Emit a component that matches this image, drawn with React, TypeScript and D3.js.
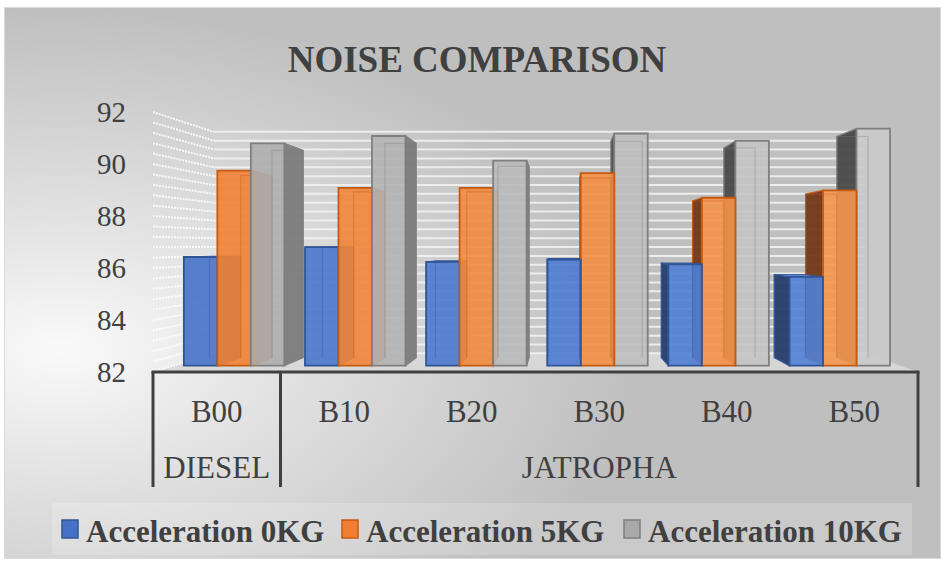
import React from 'react';
import * as d3 from 'd3';

const categories = ['B00', 'B10', 'B20', 'B30', 'B40', 'B50'];
const groupLabels = ['DIESEL', 'JATROPHA'];
const groupFirst = [0, 1];
const groupLast = [0, 5];
const seriesNames = ['Acceleration 0KG', 'Acceleration 5KG', 'Acceleration 10KG'];
const accel0kg = [86.4, 86.8, 86.2, 86.3, 86.1, 85.6];
const accel5kg = [89.9, 89.2, 89.2, 89.8, 88.8, 89.1];
const accel10kg = [91.0, 91.3, 90.3, 91.4, 91.1, 91.6];
const yTicks = [82, 84, 86, 88, 90, 92];
const yMin = 82;
const yMax = 92;
const minorStep = 0.4;
const title = 'NOISE COMPARISON';

const W = 946;
const H = 568;
const VP = { x: 564, y: 246 };
const Z_FRONT = 0.05;
const Z_BACK = 0.114;
const Z_WALL = 0.148;
const TXT = '#404040';
const FONT = '"Liberation Serif", "Times New Roman", serif';

const palette = [
  { frontL: '#4672c6', frontR: '#5383d8', stroke: '#2f5597', sideR: '#3b63ad', sideL: '#263e6b', top: '#7397da' },
  { frontL: '#ee7f33', frontR: '#f5984f', stroke: '#c55a11', sideR: '#d4691f', sideL: '#73391a', top: '#f5a86f' },
  { frontL: '#a9a9a9', frontR: '#cbcbcb', stroke: '#7f7f7f', sideR: '#7c7c7c', sideL: '#4a4a4a', top: '#d0d0d0' },
];

type P = [number, number];
const proj = (x: number, y: number, z: number): P => [x + (VP.x - x) * z, y + (VP.y - y) * z];
const poly = (pts: P[]) => 'M' + pts.map((p) => p[0].toFixed(2) + ',' + p[1].toFixed(2)).join('L') + 'Z';

export default function App() {
  const series = [accel0kg, accel5kg, accel10kg];
  const xAxis = d3.scaleBand<string>().domain(categories).range([153, 918]);
  const xg = d3
    .scaleBand<string>()
    .domain(categories)
    .range([153, 918])
    .paddingInner(0.17)
    .paddingOuter(0.085);
  const x1 = d3.scaleBand<string>().domain(seriesNames).range([0, xg.bandwidth()]);
  const y = d3.scaleLinear().domain([yMin, yMax]).range([372, 112]);
  const shade = d3.scaleLinear().domain([183, 887]).range([0, 1]).clamp(true);

  const gridVals = d3.range(yMin, yMax + 1e-6, minorStep);
  const xL = xAxis.range()[0];
  const xR = xAxis.range()[1];

  const bars: any[] = [];
  categories.forEach((c, i) => {
    seriesNames.forEach((s, j) => {
      const v = series[j][i];
      const l = (xg(c) as number) + (x1(s) as number);
      const r = l + x1.bandwidth();
      const t = y(v);
      const b = y(yMin);
      const fl = proj(l, t, Z_FRONT);
      const fr = proj(r, t, Z_FRONT);
      const cx = (fl[0] + fr[0]) / 2;
      const dist = Math.abs(cx - VP.x);
      bars.push({ l, r, t, b, j, dist, cx, key: c + s });
    });
  });
  bars.sort((a, b) => b.dist - a.dist);

  const legendX = [62, 342, 624];

  return (
    <svg width={W} height={H} style={{ position: 'absolute', left: 0, top: 0 }} fontFamily={FONT}>
      <defs>
        <radialGradient id="bg" cx="0.06" cy="0.62" r="0.62" fx="0.06" fy="0.62">
          <stop offset="0" stopColor="#fafafa" />
          <stop offset="0.35" stopColor="#e4e4e4" />
          <stop offset="1" stopColor="#bfbfbf" />
        </radialGradient>
      </defs>
      <rect x={0} y={0} width={W} height={H} fill="#ffffff" />
      <rect x={4.5} y={7.5} width={936} height={551} fill="url(#bg)" stroke="#d9d9d9" strokeWidth={1} />

      <text x={477} y={72} textAnchor="middle" fontSize={37} fontWeight="bold" fill={TXT}>
        {title}
      </text>

      {/* floor */}
      <path
        d={poly([proj(xL, y(yMin), 0), proj(xR, y(yMin), 0), proj(xR, y(yMin), Z_WALL), proj(xL, y(yMin), Z_WALL)])}
        fill="#d8d8d8"
        opacity={0.9}
      />

      {/* back wall gridlines */}
      {gridVals.map((v, k) => {
        const a = proj(xL, y(v), Z_WALL);
        const b = proj(xR, y(v), Z_WALL);
        return <line key={'bg' + k} x1={a[0]} y1={a[1]} x2={b[0]} y2={b[1]} stroke="#f2f2f2" strokeWidth={2} opacity={0.9} />;
      })}
      {/* left wall gridlines */}
      {gridVals.map((v, k) => {
        const a = proj(xL, y(v), 0);
        const b = proj(xL, y(v), Z_WALL);
        return (
          <line
            key={'lw' + k}
            x1={a[0]}
            y1={a[1]}
            x2={b[0]}
            y2={b[1]}
            stroke="#ffffff"
            strokeWidth={2}
            strokeDasharray="2 1"
            opacity={0.85}
          />
        );
      })}

      {/* bars */}
      {bars.map((bar) => {
        const c = palette[bar.j];
        const front = d3.interpolateRgb(c.frontL, c.frontR)(shade(bar.cx));
        const fTL = proj(bar.l, bar.t, Z_FRONT);
        const fTR = proj(bar.r, bar.t, Z_FRONT);
        const fBR = proj(bar.r, bar.b, Z_FRONT);
        const fBL = proj(bar.l, bar.b, Z_FRONT);
        const bTL = proj(bar.l, bar.t, Z_BACK);
        const bTR = proj(bar.r, bar.t, Z_BACK);
        const bBR = proj(bar.r, bar.b, Z_BACK);
        const bBL = proj(bar.l, bar.b, Z_BACK);
        const showR = fTR[0] < VP.x;
        const showL = fTL[0] > VP.x;
        const showTop = fTL[1] > VP.y;
        return (
          <g key={bar.key}>
            {showR && <path d={poly([fTR, bTR, bBR, fBR])} fill={c.sideR} stroke={c.stroke} strokeWidth={1.2} opacity={0.95} />}
            {showL && <path d={poly([fTL, bTL, bBL, fBL])} fill={c.sideL} stroke={c.stroke} strokeWidth={1.2} opacity={0.95} />}
            {showTop && <path d={poly([fTL, fTR, bTR, bTL])} fill={c.top} stroke={c.stroke} strokeWidth={1} />}
            <path d={poly([fTL, fTR, fBR, fBL])} fill={front} fillOpacity={0.9} stroke={c.stroke} strokeWidth={1.8} />
            <path
              d={'M' + bBL.join(',') + 'L' + bTL.join(',') + 'L' + bTR.join(',') + 'L' + bBR.join(',')}
              fill="none"
              stroke={c.stroke}
              strokeOpacity={0.35}
              strokeWidth={1.2}
            />
          </g>
        );
      })}

      {/* y axis labels */}
      {yTicks.map((v) => (
        <text key={'yt' + v} x={126} y={y(v)} dy="0.35em" textAnchor="end" fontSize={29} fill={TXT}>
          {v}
        </text>
      ))}

      {/* category axis */}
      <line x1={xL - 1.5} x2={xR + 1.5} y1={y(yMin)} y2={y(yMin)} stroke={TXT} strokeWidth={3} />
      {[xL, xAxis(categories[1]) as number, xR].map((xx, k) => (
        <line key={'dv' + k} x1={xx} x2={xx} y1={y(yMin)} y2={487} stroke={TXT} strokeWidth={3} />
      ))}
      {categories.map((c) => (
        <text key={'cl' + c} x={(xAxis(c) as number) + xAxis.bandwidth() / 2} y={422} textAnchor="middle" fontSize={31} fill={TXT}>
          {c}
        </text>
      ))}
      {groupLabels.map((g, k) => {
        const a = xAxis(categories[groupFirst[k]]) as number;
        const b = (xAxis(categories[groupLast[k]]) as number) + xAxis.bandwidth();
        return (
          <text key={'gl' + g} x={(a + b) / 2} y={478} textAnchor="middle" fontSize={31} fill={TXT}>
            {g}
          </text>
        );
      })}

      {/* legend */}
      <rect x={52} y={503} width={860} height={52} fill="#ffffff" opacity={0.18} />
      {seriesNames.map((s, j) => (
        <g key={'lg' + s}>
          <rect x={legendX[j]} y={520} width={16} height={18} fill={palette[j].frontL} stroke={palette[j].stroke} strokeWidth={1.5} />
          <text x={legendX[j] + 24} y={542} fontSize={31} fontWeight="bold" fill={TXT}>
            {s}
          </text>
        </g>
      ))}
    </svg>
  );
}
